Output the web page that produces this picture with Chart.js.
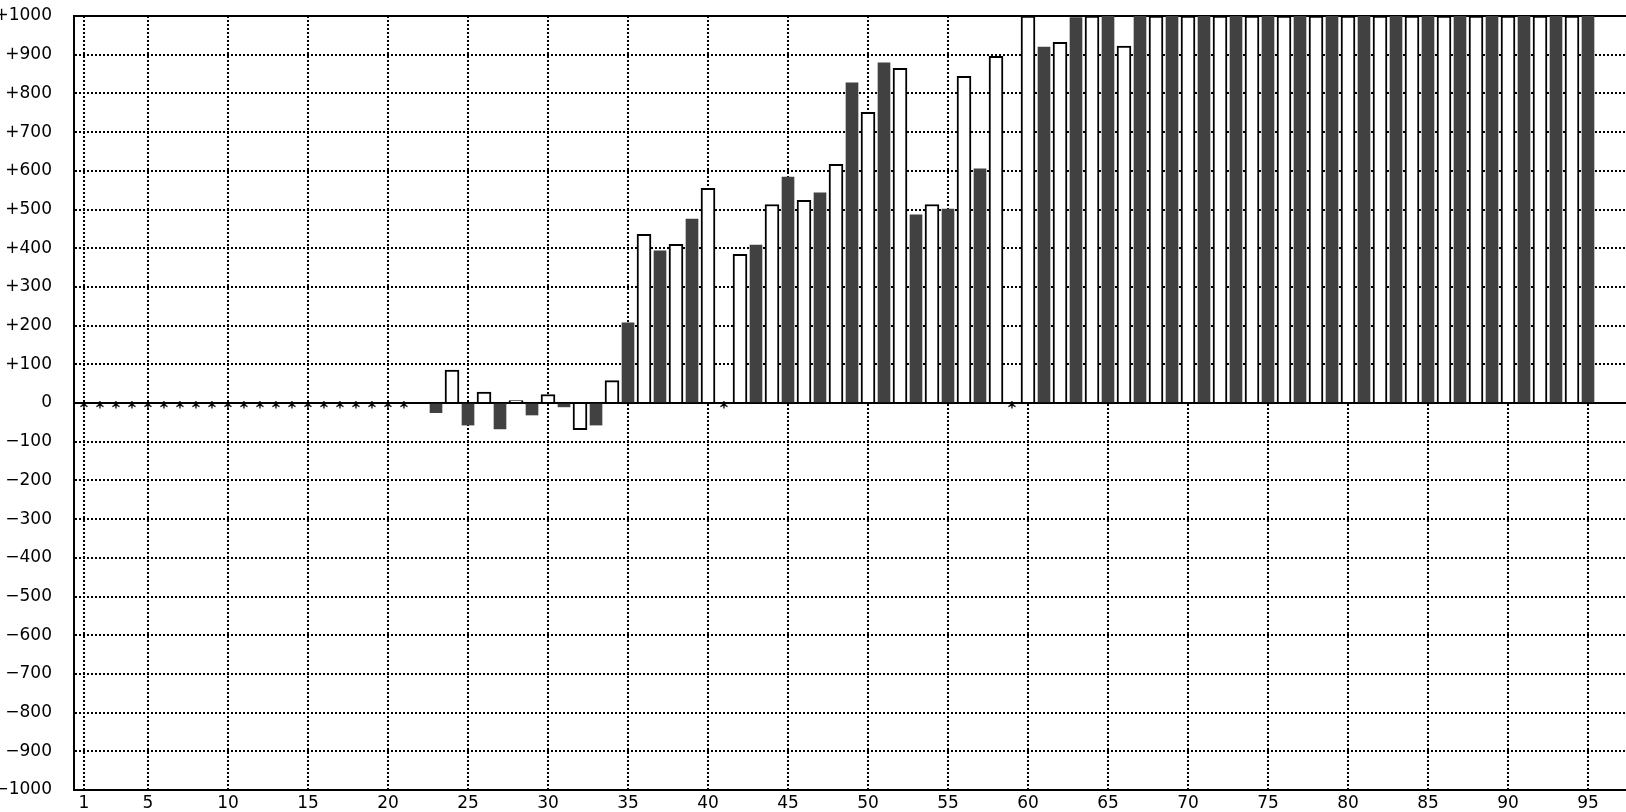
<!DOCTYPE html>
<html>
<head>
<meta charset="utf-8">
<script src="https://cdn.jsdelivr.net/npm/chart.js@4"></script>
<style>
  html, body { margin: 0; padding: 0; background: #fff; }
  #wrap { width: 1626px; height: 812px; position: relative; }
</style>
</head>
<body>
<div id="wrap"><canvas id="chart"></canvas></div>
<script>
// categories 1..95
const categories = [];
for (let c = 1; c <= 95; c++) categories.push(c);

// labelled x positions
const xTicks = [1, 5, 10, 15, 20, 25, 30, 35, 40, 45, 50, 55, 60, 65, 70, 75, 80, 85, 90, 95];

// one value per category, null = no value (drawn as *)
const values = [
    null, null, null, null, null, null, null, null, null, null,
    null, null, null, null, null, null, null, null, null, null,
    null, 0, -25, 85, -57, 28, -67, 6, -31, 22,
    -10, -69, -57, 58, 207, 436, 393, 410, 475, 555,
    null, 384, 408, 513, 584, 524, 543, 617, 827, 751,
    879, 865, 486, 513, 501, 844, 605, 896, null, 1000,
    920, 932, 996, 1000, 1000, 922, 1000, 1000, 1000, 1000,
    1000, 1000, 1000, 1000, 1000, 1000, 1000, 1000, 1000, 1000,
    1000, 1000, 1000, 1000, 1000, 1000, 1000, 1000, 1000, 1000,
    1000, 1000, 1000, 1000, 1000
];

const FONT = { family: "'DejaVu Sans'", size: 17 };

// odd categories are dark, even ones are outlined
function pointsFor(odd) {
    const pts = [];
    values.forEach((v, i) => {
        const c = categories[i];
        if (v !== null && (c % 2 === 1) === odd) pts.push({ x: c, y: v });
    });
    return pts;
}

function signed(v) {
    if (v > 0) return "+" + v;
    if (v < 0) return "\u2212" + Math.abs(v);
    return "0";
}

// little asterisks where a category has no value
const missingMarks = {
    id: "missingMarks",
    afterDatasetsDraw(chart) {
        const { ctx, scales: { x, y } } = chart;
        ctx.save();
        ctx.font = "bold 16px 'DejaVu Sans'";
        ctx.fillStyle = "#000";
        ctx.textAlign = "center";
        ctx.textBaseline = "alphabetic";
        values.forEach((v, i) => {
            if (v === null) {
                ctx.fillText("*", x.getPixelForValue(categories[i]), y.getPixelForValue(0) + 10);
            }
        });
        ctx.restore();
    }
};

const solidAt = v => v === 0 || v === 1000;

const ctx = document.getElementById("chart").getContext("2d");
const chart = new Chart(ctx, {
    type: "bar",
    data: {
        datasets: [
            {
                data: pointsFor(false),
                backgroundColor: "#fff",
                borderColor: "#000",
                borderWidth: 2,
                barThickness: 14
            },
            {
                data: pointsFor(true),
                backgroundColor: "#414141",
                borderWidth: 0,
                barThickness: 12
            }
        ]
    },
    options: {
        responsive: true,
        maintainAspectRatio: false,
        animation: false,
        layout: { padding: { top: 16, right: 0, bottom: 0, left: 0 } },
        plugins: {
            legend: { display: false },
            tooltip: { enabled: false }
        },
        datasets: { bar: { grouped: false } },
        scales: {
            x: {
                type: "linear",
                min: 0.375,
                max: 97.375,
                offset: false,
                afterBuildTicks: s => { s.ticks = xTicks.map(v => ({ value: v })); },
                afterFit: s => { s.height = 22; },
                grid: {
                    offset: false,
                    color: "#000",
                    lineWidth: 2,
                    drawTicks: false
                },
                border: { display: true, color: "#000", width: 2, dash: [2, 2] },
                ticks: {
                    color: "#000",
                    font: FONT,
                    padding: 3,
                    maxRotation: 0,
                    autoSkip: false,
                    callback: v => String(v)
                }
            },
            y: {
                min: -1000,
                max: 1000,
                afterFit: s => { s.width = 74; },
                grid: {
                    color: "#000",
                    lineWidth: 2,
                    drawTicks: true,
                    tickLength: 22,
                    tickColor: "rgba(0,0,0,0)"
                },
                border: {
                    display: true,
                    color: "#000",
                    width: 2,
                    dash: c => (c.tick && solidAt(c.tick.value)) ? [] : [2, 2]
                },
                ticks: {
                    stepSize: 100,
                    color: "#000",
                    font: FONT,
                    padding: 0,
                    callback: v => signed(v)
                }
            }
        }
    },
    plugins: [missingMarks]
});
</script>
</body>
</html>
